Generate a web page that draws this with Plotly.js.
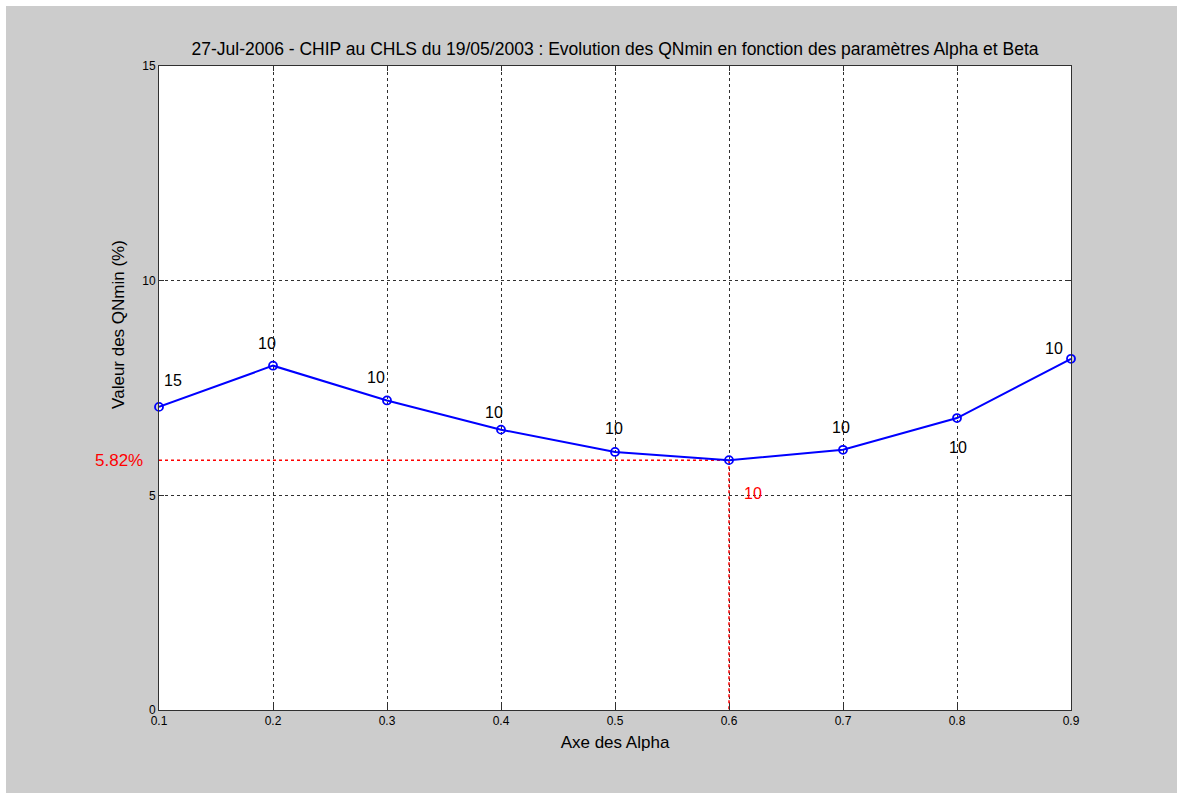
<!DOCTYPE html>
<html>
<head>
<meta charset="utf-8">
<script src="https://cdn.plot.ly/plotly-3.0.1.min.js"></script>
<style>
  html, body { margin: 0; padding: 0; background: #ffffff; }
  #chart { position: absolute; left: 6px; top: 6px; width: 1171px; height: 787px; }
</style>
</head>
<body>
<div id="chart"></div>
<script>
// ---- data ----
const alpha = [0.1, 0.2, 0.3, 0.4, 0.5, 0.6, 0.7, 0.8, 0.9];
const qnmin = [7.06, 8.02, 7.21, 6.53, 6.01, 5.82, 6.06, 6.80, 8.18];
const betaLabels = ["15", "10", "10", "10", "10", "10", "10", "10", "10"];
const minAlpha = 0.6;
const minValue = 5.82;
const minText = "5.82%";
const titleText = "27-Jul-2006 - CHIP au CHLS du 19/05/2003 : Evolution des QNmin en fonction des paramètres Alpha et Beta";
const xTitle = "Axe des Alpha";
const yTitle = "Valeur des QNmin (%)";

// label offsets in pixels (presentation only)
const labelShiftX = [14, -6, -11, -7, -1, 24, -2, 1, -17];
const labelShiftY = [26, 22, 23, 17, 23, -33, 22, -29, 10];

const FONT = "Liberation Sans, Arial, Helvetica, sans-serif";

const traces = [
  {
    x: [alpha[0], minAlpha, minAlpha],
    y: [minValue, minValue, 0],
    mode: "lines",
    line: { color: "#ff0000", width: 1.5, dash: "dot" },
    hoverinfo: "skip",
    showlegend: false,
    cliponaxis: false
  },
  {
    x: alpha,
    y: qnmin,
    mode: "lines+markers",
    line: { color: "#0000ff", width: 2 },
    marker: { symbol: "circle-open", size: 8, color: "#0000ff", line: { width: 1.8, color: "#0000ff" } },
    showlegend: false,
    cliponaxis: false
  }
];

const annotations = alpha.map((a, i) => ({
  x: a, y: qnmin[i], xref: "x", yref: "y",
  text: betaLabels[i],
  showarrow: false,
  xshift: labelShiftX[i], yshift: labelShiftY[i],
  font: { family: FONT, size: 16, color: a === minAlpha ? "#ff0000" : "#000000" }
}));
annotations.push({
  x: 0, xref: "paper", y: minValue, yref: "y",
  text: minText, showarrow: false,
  xanchor: "right", xshift: -14,
  font: { family: FONT, size: 17, color: "#ff0000" }
});
annotations.push({
  x: 0, xref: "paper", y: 0.598, yref: "paper",
  text: yTitle, showarrow: false, textangle: -90,
  xanchor: "center", yanchor: "middle", xshift: -40,
  font: { family: FONT, size: 17, color: "#000000" }
});

const axisCommon = {
  showline: true, linecolor: "#303030", linewidth: 1, mirror: "ticks",
  ticks: "inside", ticklen: 5, tickcolor: "#303030",
  showgrid: true, gridcolor: "#303030", gridwidth: 1, griddash: "dot",
  zeroline: false,
  tickfont: { family: FONT, size: 12, color: "#000000" }
};

const layout = {
  width: 1171, height: 787,
  paper_bgcolor: "#cccccc",
  plot_bgcolor: "#ffffff",
  margin: { l: 152.5, r: 106, t: 60, b: 82.5 },
  font: { family: FONT, color: "#000000" },
  title: {
    text: titleText,
    font: { family: FONT, size: 17.5, color: "#000000" },
    x: 0.5, xref: "paper", xanchor: "center",
    y: 1, yref: "paper", yanchor: "bottom", pad: { b: 11 }
  },
  xaxis: Object.assign({}, axisCommon, {
    range: [0.1, 0.9], tick0: 0.1, dtick: 0.1, tickformat: ".1f",
    ticklabelstandoff: 0,
    title: { text: xTitle, font: { family: FONT, size: 17, color: "#000000" }, standoff: 8 }
  }),
  yaxis: Object.assign({}, axisCommon, {
    range: [0, 15], tick0: 0, dtick: 5
  }),
  annotations: annotations
};

Plotly.newPlot("chart", traces, layout, { displayModeBar: false, staticPlot: true });
</script>
</body>
</html>
